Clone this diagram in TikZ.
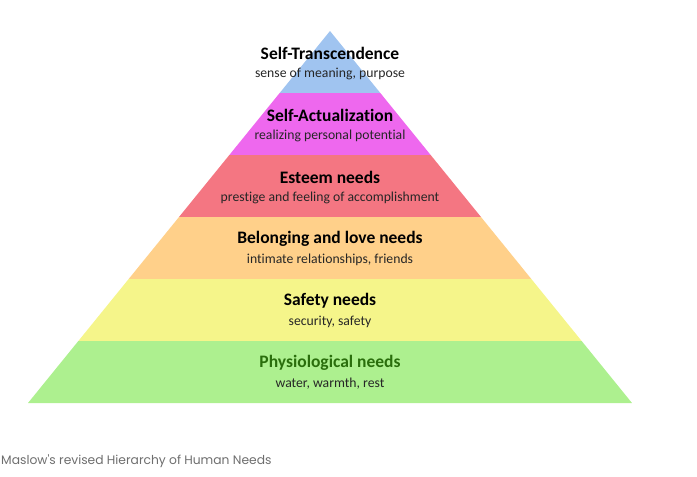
\documentclass[tikz,border=0pt]{standalone}
\usepackage{fontspec}
\setmainfont[Ligatures=NoCommon]{Carlito}
\newfontfamily\legendefont{Poppins}
\definecolor{niveauA}{RGB}{160,196,240}
\definecolor{niveauB}{RGB}{238,104,238}
\definecolor{niveauC}{RGB}{244,118,130}
\definecolor{niveauD}{RGB}{255,208,138}
\definecolor{niveauE}{RGB}{245,245,138}
\definecolor{niveauF}{RGB}{173,240,143}
\definecolor{vertfonce}{RGB}{42,110,12}
\definecolor{gristexte}{RGB}{110,110,110}
\begin{document}
\begin{tikzpicture}[x=1pt, y=-1pt,
    titre/.style={font=\bfseries\fontsize{17.5}{20}\selectfont, inner sep=0pt},
    detail/.style={font=\fontsize{13.7}{16}\selectfont, text=black!85, inner sep=0pt},
    legende/.style={font=\legendefont\fontsize{12.3}{14}\selectfont, text=gristexte, anchor=west, inner sep=1pt}
]
\useasboundingbox (0,0) rectangle (697,477);

% Niveaux de la pyramide
\foreach \k/\col/\tcol/\nom/\info in {
    0/niveauA/black/Self-Transcendence/{sense of meaning, purpose},
    1/niveauB/black/Self-Actualization/{realizing personal potential},
    2/niveauC/black/Esteem needs/{prestige and feeling of accomplishment},
    3/niveauD/black/Belonging and love needs/{intimate relationships, friends},
    4/niveauE/black/Safety needs/{security, safety},
    5/niveauF/vertfonce/Physiological needs/{water, warmth, rest}} {
    \pgfmathsetmacro{\ya}{31+62*\k}
    \pgfmathsetmacro{\yb}{31+62*(\k+1)}
    \fill[\col] (330-50.33*\k,\ya) -- (330+50.33*\k,\ya)
        -- (330+50.33*\k+50.33,\yb) -- (330-50.33*\k-50.33,\yb) -- cycle;
    \node[titre, text=\tcol] (t\k) at (330,\ya+22) {\nom};
    \node[detail] (d\k) at (330,\ya+43) {\info};
}

% Légende
\node[legende] (leg) at (0,461) {Maslow's revised Hierarchy of Human Needs};

\end{tikzpicture}
\end{document}
